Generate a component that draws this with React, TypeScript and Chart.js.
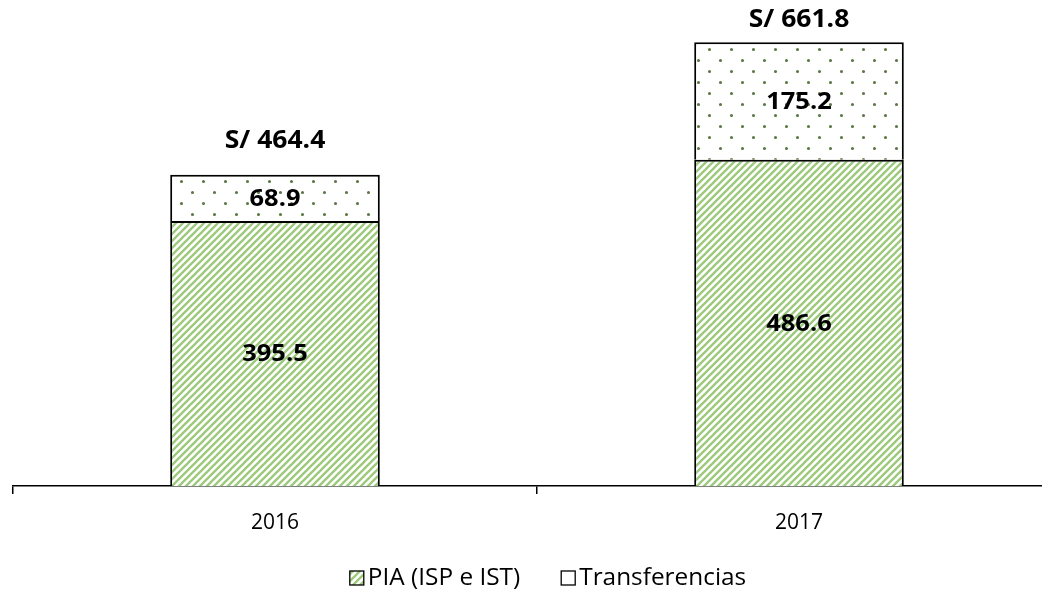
import React, { useEffect, useRef } from "react";
import { Chart, registerables } from "chart.js";

Chart.register(...registerables);

const categories = ["2016", "2017"];
const piaValues = [395.5, 486.6];
const transferValues = [68.9, 175.2];
const totalLabels = ["S/ 464.4", "S/ 661.8"];
const seriesNames = ["PIA (ISP e IST)", "Transferencias"];

const STRETCH = 1.06;

function makeHatch(): CanvasPattern | string {
  const s = 7;
  const c = document.createElement("canvas");
  c.width = s;
  c.height = s;
  const ctx = c.getContext("2d");
  if (!ctx) return "#a9d08e";
  ctx.fillStyle = "#ffffff";
  ctx.fillRect(0, 0, s, s);
  ctx.strokeStyle = "#9cc97a";
  ctx.lineWidth = 2.3;
  ctx.beginPath();
  ctx.moveTo(-1, s + 1);
  ctx.lineTo(s + 1, -1);
  ctx.moveTo(-1 - s, s + 1);
  ctx.lineTo(1, -1);
  ctx.moveTo(s - 1, s + 1);
  ctx.lineTo(2 * s + 1, -1);
  ctx.stroke();
  return ctx.createPattern(c, "repeat") || "#a9d08e";
}

function makeDots(): CanvasPattern | string {
  const w = 22;
  const h = 22;
  const c = document.createElement("canvas");
  c.width = w;
  c.height = h;
  const ctx = c.getContext("2d");
  if (!ctx) return "#ffffff";
  ctx.fillStyle = "#ffffff";
  ctx.fillRect(0, 0, w, h);
  ctx.fillStyle = "#5f7a48";
  ctx.beginPath();
  ctx.arc(5.5, 5.5, 1.6, 0, Math.PI * 2);
  ctx.closePath();
  ctx.moveTo(16.5, 16.5);
  ctx.arc(16.5, 16.5, 1.6, 0, Math.PI * 2);
  ctx.fill();
  return ctx.createPattern(c, "repeat") || "#ffffff";
}

function stretchedText(ctx: CanvasRenderingContext2D, text: string, x: number, y: number) {
  ctx.save();
  ctx.translate(x, y);
  ctx.scale(STRETCH, 1);
  ctx.fillText(text, 0, 0);
  ctx.restore();
}

const labelPlugin = {
  id: "valueLabels",
  afterDatasetsDraw(chart: any) {
    const ctx = chart.ctx;
    ctx.save();
    ctx.fillStyle = "#000000";
    ctx.textAlign = "center";
    ctx.textBaseline = "middle";
    ctx.font = "bold 24px 'Open Sans'";
    chart.data.datasets.forEach((ds: any, di: number) => {
      const meta = chart.getDatasetMeta(di);
      meta.data.forEach((bar: any, i: number) => {
        const v = ds.data[i];
        const yMid = (bar.y + bar.base) / 2;
        stretchedText(ctx, v.toFixed(1), bar.x, yMid + 1);
      });
    });
    ctx.font = "bold 25px 'Open Sans'";
    const topMeta = chart.getDatasetMeta(chart.data.datasets.length - 1);
    topMeta.data.forEach((bar: any, i: number) => {
      const y = Math.max(bar.y - 34, 20);
      stretchedText(ctx, totalLabels[i], bar.x, y);
    });
    ctx.restore();
  },
};

const legendPlugin = {
  id: "customLegend",
  afterDraw(chart: any) {
    const ctx = chart.ctx;
    const ds = chart.data.datasets;
    const box = 14;
    const gapBoxText = 4;
    const gapItems = 41;
    ctx.save();
    ctx.font = "23px 'Open Sans'";
    ctx.textBaseline = "middle";
    ctx.textAlign = "left";
    const widths = ds.map((d: any) => ctx.measureText(d.label).width * STRETCH);
    let total = 0;
    widths.forEach((w: number, i: number) => {
      total += box + gapBoxText + w + (i < widths.length - 1 ? gapItems : 0);
    });
    const center = (chart.chartArea.left + chart.chartArea.right) / 2 + 11;
    let x = center - total / 2;
    const y = 578;
    ds.forEach((d: any, i: number) => {
      ctx.fillStyle = d.backgroundColor;
      ctx.fillRect(x, y - box / 2, box, box);
      ctx.strokeStyle = "#000000";
      ctx.lineWidth = 1.3;
      ctx.strokeRect(x, y - box / 2, box, box);
      ctx.fillStyle = "#000000";
      ctx.save();
      ctx.translate(x + box + gapBoxText, y);
      ctx.scale(STRETCH, 1);
      ctx.fillText(d.label, 0, 0);
      ctx.restore();
      x += box + gapBoxText + widths[i] + gapItems;
    });
    ctx.restore();
  },
};

export default function App() {
  const ref = useRef<HTMLCanvasElement | null>(null);

  useEffect(() => {
    document.body.style.margin = "0";
    const canvas = ref.current;
    if (!canvas) return;
    const hatch = makeHatch();
    const dots = makeDots();
    const chart = new Chart(canvas, {
      type: "bar",
      data: {
        labels: categories,
        datasets: [
          {
            label: seriesNames[0],
            data: piaValues,
            backgroundColor: hatch as any,
            borderColor: "#000000",
            borderWidth: 2,
            borderSkipped: "start",
            categoryPercentage: 1,
            barPercentage: 0.4,
          },
          {
            label: seriesNames[1],
            data: transferValues,
            backgroundColor: dots as any,
            borderColor: "#000000",
            borderWidth: 2,
            borderSkipped: "start",
            categoryPercentage: 1,
            barPercentage: 0.4,
          },
        ],
      },
      options: {
        responsive: false,
        animation: false,
        layout: { padding: { left: 13, right: 9, top: 0, bottom: 0 } },
        plugins: {
          legend: { display: false },
          tooltip: { enabled: false },
        },
        scales: {
          x: {
            stacked: true,
            offset: true,
            afterFit: (scale: any) => {
              scale.height = 107;
            },
            grid: {
              offset: true,
              drawOnChartArea: false,
              drawTicks: true,
              tickLength: 8,
              color: "#000000",
              lineWidth: 1.5,
            },
            border: { display: true, color: "#000000", width: 1.5 },
            ticks: {
              color: "#000000",
              font: { family: "'Open Sans'", size: 21 },
              padding: 16,
            },
          },
          y: {
            stacked: true,
            display: false,
            min: 0,
            max: 725,
          },
        },
      },
      plugins: [labelPlugin, legendPlugin],
    });
    return () => chart.destroy();
  }, []);

  return (
    <div style={{ width: 1042, height: 593, overflow: "hidden", position: "relative" }}>
      <canvas ref={ref} width={1070} height={593} style={{ display: "block" }} />
    </div>
  );
}
